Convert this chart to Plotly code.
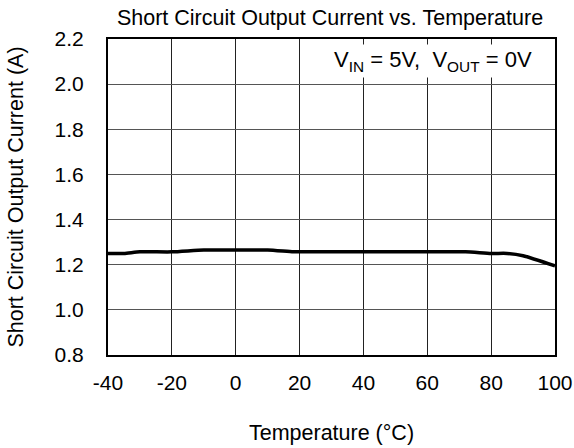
import plotly.graph_objects as go

temperature = [-40, -35, -30, -20, -10, 0, 10, 18, 20, 40, 60, 72, 80, 85, 90, 100]
current = [1.25, 1.25, 1.257, 1.257, 1.265, 1.265, 1.265, 1.257, 1.257, 1.257, 1.257, 1.257, 1.25, 1.25, 1.24, 1.195]

x_ticks = [-40, -20, 0, 20, 40, 60, 80, 100]
y_ticks = [0.8, 1.0, 1.2, 1.4, 1.6, 1.8, 2.0, 2.2]
y_tick_text = ["0.8", "1.0", "1.2", "1.4", "1.6", "1.8", "2.0", "2.2"]

FONT = "Liberation Sans"

fig = go.Figure()
fig.add_trace(go.Scatter(
    x=temperature, y=current, mode="lines",
    line=dict(color="black", width=3.5, shape="spline", smoothing=0.6),
    showlegend=False, hoverinfo="skip",
))

fig.update_layout(
    width=574, height=448,
    margin=dict(l=108, r=19, t=39, b=93, autoexpand=False),
    paper_bgcolor="white", plot_bgcolor="white",
    font=dict(family=FONT, color="black", size=21),
    title=dict(text="Short Circuit Output Current vs. Temperature",
               x=0.575, xanchor="center", y=0.962, yanchor="middle",
               font=dict(size=21.5, family=FONT, color="black")),
    showlegend=False,
)

fig.update_xaxes(
    range=[-40, 100], tickvals=x_ticks, ticktext=[str(v) for v in x_ticks],
    showgrid=True, gridcolor="#222222", gridwidth=1,
    showline=True, linecolor="black", linewidth=2, mirror=True,
    ticks="", ticklabelstandoff=8, zeroline=False, automargin=False,
    tickfont=dict(size=21, family=FONT),
    title=dict(text="Temperature (°C)", font=dict(size=21.5, family=FONT), standoff=32),
)
fig.update_yaxes(
    range=[0.8, 2.2], tickvals=y_ticks, ticktext=y_tick_text,
    showgrid=True, gridcolor="#555555", gridwidth=1,
    showline=True, linecolor="black", linewidth=2, mirror=True,
    ticks="", ticklabelstandoff=18, zeroline=False, automargin=False,
    tickfont=dict(size=21, family=FONT),
    title=dict(text="Short Circuit Output Current (A)", font=dict(size=21.5, family=FONT), standoff=25),
)

fig.add_annotation(
    xref="paper", yref="paper", x=0.955, y=0.93, xanchor="right", yanchor="middle",
    text="V<sub>IN</sub> = 5V,  V<sub>OUT</sub> = 0V", showarrow=False,
    font=dict(size=22, family=FONT, color="black"),
    bgcolor="white", borderpad=2,
)

page_css = ("document.documentElement.style.margin='0';"
            "document.body.style.margin='0';"
            "document.documentElement.style.overflow='hidden';"
            "document.body.style.overflow='hidden';")

fig.write_html("out.html", post_script=page_css,
               config={"displayModeBar": False, "staticPlot": True})
